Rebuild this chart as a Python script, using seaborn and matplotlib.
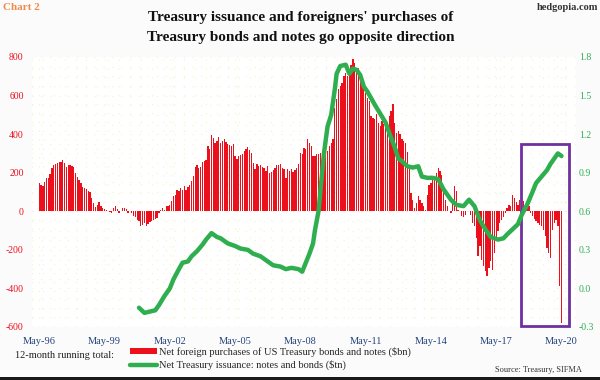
import numpy as np
import pandas as pd
import matplotlib
matplotlib.use("Agg")
import matplotlib.pyplot as plt
import seaborn as sns
from matplotlib.patches import Patch, Rectangle
from matplotlib.lines import Line2D

# ---------------- data ----------------
START_YEAR, START_MONTH = 1996, 5   # first bar: May-96, monthly

# 12-month running total, net foreign purchases of US Treasury bonds and notes ($bn)
foreign_purchases = [
    149, 136, 130, 150, 172, 175, 195, 224, 241, 245, 250, 258,
    255, 267, 250, 232, 241, 238, 236, 232, 200, 177, 163, 145,
    125, 120, 115, 106, 98, 68, 42, 22, 33, 46, 29, 17,
    12, 9, 4, -5, -8, 19, 25, 13, -8, 4, 17, 17,
    13, -8, 0, -8, -23, -29, -44, -52, -75, -70, -62, -75,
    -65, -58, -52, -44, -40, -35, -9, 9, 17, 9, 26, 30,
    35, 52, 78, 86, 112, 104, 121, 112, 130, 112, 125, 138,
    155, 181, 232, 241, 224, 232, 258, 260, 264, 336, 322, 396,
    379, 353, 365, 387, 353, 362, 373, 358, 350, 345, 337, 349,
    287, 270, 287, 290, 295, 313, 322, 335, 320, 304, 252, 221,
    244, 235, 238, 230, 226, 209, 235, 200, 204, 215, 226, 238,
    240, 244, 226, 218, 174, 218, 209, 218, 204, 215, 226, 244,
    304, 295, 330, 322, 373, 356, 339, 287, 287, 295, 295, 304,
    240, 300, 304, 313, 339, 355, 373, 538, 580, 632, 650, 667,
    701, 718, 701, 736, 760, 788, 770, 718, 744, 701, 675, 641,
    615, 589, 572, 494, 485, 477, 503, 460, 443, 468, 451, 447,
    443, 494, 520, 555, 460, 408, 416, 399, 373, 365, 356, 310,
    233, 95, 61, 17, 43, 77, 61, 43, 26, 9, 86, 138,
    147, 164, 173, 199, 225, 207, 190, 112, 60, 26, 0, -9,
    52, 130, 104, 9, 0, -26, -30, -17, 0, 0, -20, -60,
    -78, -140, -233, -181, -250, -285, -310, -335, -293, -260, -302, -216,
    -150, -100, -60, -43, -30, -9, 17, 35, 26, 86, 69, 50,
    35, 60, 43, 52, 35, 30, 26, -9, -26, -40, -52, -60,
    -70, -78, -95, -130, -190, -216, -241, -95, -60, -43, -78, -389,
    -578,
]

# 12-month running total, net Treasury issuance: notes and bonds ($tn)
issuance_month_offset = [
    55, 58, 61, 64, 66, 69, 72, 74, 77, 79, 82, 84, 87, 90, 92, 95, 98, 100,
    104, 108, 111, 115, 118, 122, 126, 129, 133, 136, 139, 143, 145, 147, 149,
    151, 152, 154, 155, 157, 159, 161, 163, 164, 166, 169, 171, 173, 175, 177,
    179, 181, 183, 185, 188, 191, 193, 196, 198, 200, 203, 206, 209, 211, 214,
    217, 220, 223, 227, 230, 234, 237, 240, 243, 246, 249, 253, 256, 258, 261,
    264, 266, 269, 272, 274, 277, 280, 282, 284, 286, 288,
]
issuance_tn = [
    -0.15, -0.19, -0.18, -0.17, -0.13, -0.06, 0.00, 0.07, 0.15, 0.20, 0.21, 0.25,
    0.29, 0.34, 0.38, 0.43, 0.40, 0.39, 0.35, 0.33, 0.31, 0.30, 0.27, 0.25, 0.21,
    0.18, 0.17, 0.15, 0.16, 0.15, 0.13, 0.20, 0.27, 0.35, 0.45, 0.60, 0.75, 1.05,
    1.26, 1.35, 1.55, 1.67, 1.73, 1.74, 1.67, 1.71, 1.70, 1.66, 1.57, 1.53, 1.48,
    1.43, 1.36, 1.29, 1.21, 1.10, 1.01, 0.99, 0.95, 0.94, 0.95, 0.87, 0.86, 0.86,
    0.85, 0.77, 0.69, 0.65, 0.64, 0.69, 0.64, 0.53, 0.46, 0.40, 0.38, 0.39, 0.42,
    0.46, 0.50, 0.57, 0.65, 0.75, 0.82, 0.87, 0.92, 0.97, 1.01, 1.05, 1.03,
]

xtick_month_offset = [0, 36, 72, 108, 144, 180, 216, 252, 288]
xtick_labels = ["May-96", "May-99", "May-02", "May-05", "May-08",
                "May-11", "May-14", "May-17", "May-20"]
left_ticks = [800, 600, 400, 200, 0, -200, -400, -600]
right_ticks = [1.8, 1.5, 1.2, 0.9, 0.6, 0.3, 0.0, -0.3]


def to_year(m):
    return START_YEAR + (START_MONTH - 1 + m) / 12.0


bars_df = pd.DataFrame({"t": [to_year(i) for i in range(len(foreign_purchases))],
                        "v": foreign_purchases})
line_df = pd.DataFrame({"t": [to_year(m) for m in issuance_month_offset],
                        "v": issuance_tn})

# ---------------- style ----------------
RED = "#ec0f1c"
GREEN = "#2fae50"
NAVY = "#24427a"
sns.set_theme(style="white")
plt.rcParams["font.family"] = ["Liberation Serif", "DejaVu Serif"]

fig = plt.figure(figsize=(6, 3.8), dpi=100, facecolor="#fbfbfc")
ax = fig.add_axes([32 / 600, 1 - 327 / 380, 544 / 600, 270 / 380])
ax.set_facecolor("white")

sns.barplot(data=bars_df, x="t", y="v", native_scale=True, width=0.72,
            color=RED, saturation=1, errorbar=None, linewidth=0,
            edgecolor="none", ax=ax)

ax2 = ax.twinx()
sns.lineplot(data=line_df, x="t", y="v", color=GREEN, linewidth=3.2, ax=ax2)

ax.set_xlim(to_year(-1.1), to_year(293.4))
ax.set_ylim(-600, 800)
ax2.set_ylim(-0.3, 1.8)

ax.set_xticks([to_year(m) for m in xtick_month_offset])
ax.set_xticklabels(xtick_labels)
ax.set_yticks(left_ticks)
ax.set_yticklabels([f"{v:d}" for v in left_ticks])
ax2.set_yticks(right_ticks)
ax2.set_yticklabels([f"{v:.1f}" for v in right_ticks])

ax.tick_params(axis="x", colors=NAVY, labelsize=7.5, length=0, pad=7)
ax.tick_params(axis="y", colors=RED, labelsize=7, length=0, pad=6)
ax2.tick_params(axis="y", colors=GREEN, labelsize=7, length=0, pad=2)
for a in (ax, ax2):
    a.set_xlabel("")
    a.set_ylabel("")
    for s in a.spines.values():
        s.set_visible(False)

# faint dotted background grid
ax.set_yticks(np.arange(-600, 801, 50), minor=True)
ax.set_xticks(np.arange(1996, 2021.5, 0.5), minor=True)
ax.tick_params(which="minor", length=0)
ax.grid(which="both", color="#f6f2c4", linestyle=(0, (1, 7)), linewidth=0.8)
ax.set_axisbelow(True)

# purple highlight box
ax.add_patch(Rectangle((to_year(265.8), -597), (292.3 - 265.8) / 12, 947,
                       fill=False, edgecolor="#7030a0", linewidth=2,
                       clip_on=False, zorder=5))

# titles and notes
fig.text(3 / 600, 1 - 8 / 380, "Chart 2", color="#f08a4b", fontsize=8,
         fontweight="bold", ha="left", va="center")
fig.text(598 / 600, 1 - 8 / 380, "hedgopia.com", color="#333333", fontsize=7.5,
         fontweight="bold", ha="right", va="center")
fig.text(301 / 600, 1 - 17 / 380, "Treasury issuance and foreigners' purchases of",
         fontsize=11, fontweight="bold", ha="center", va="center", color="#111111")
fig.text(301 / 600, 1 - 37 / 380, "Treasury bonds and notes go opposite direction",
         fontsize=11, fontweight="bold", ha="center", va="center", color="#111111")

fig.text(15 / 600, 1 - 355 / 380, "12-month running total:", fontsize=7.5,
         ha="left", va="center", color="#222222")
handles = [Patch(facecolor=RED, edgecolor="none"),
           Line2D([0], [0], color=GREEN, linewidth=3.2)]
labels = ["Net foreign purchases of US Treasury bonds and notes ($bn)",
          "Net Treasury issuance: notes and bonds ($tn)"]
fig.legend(handles, labels, loc="upper left",
           bbox_to_anchor=(130 / 600, 1 - 347 / 380), frameon=False,
           fontsize=7.5, handlelength=2.6, handleheight=0.5,
           handletextpad=0.2, labelspacing=0.25, borderpad=0,
           borderaxespad=0)
fig.text(582 / 600, 1 - 370 / 380, "Source: Treasury, SIFMA", fontsize=6,
         ha="right", va="center", color="#333333")

# dark strip along the bottom edge of the picture
fig.patches.append(Rectangle((0, 0), 1, 3 / 380, transform=fig.transFigure,
                             facecolor="#1a1a1a", edgecolor="none"))

fig.savefig("out.png", dpi=100, facecolor=fig.get_facecolor())
